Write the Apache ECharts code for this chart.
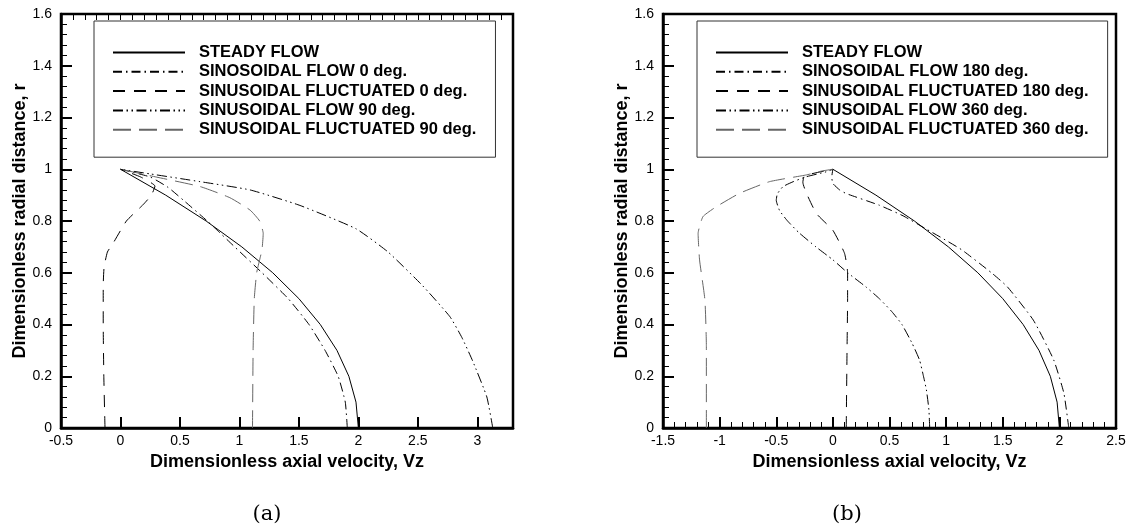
<!DOCTYPE html>
<html>
<head>
<meta charset="utf-8">
<script src="https://cdn.jsdelivr.net/npm/echarts@6/dist/echarts.min.js"></script>
<style>
  html, body { margin: 0; padding: 0; background: #fff; }
  #main { width: 1135px; height: 531px; }
</style>
</head>
<body>
<div id="main"></div>
<script>
// legend names
let namesA = ['STEADY FLOW', 'SINOSOIDAL FLOW 0 deg.', 'SINUSOIDAL FLUCTUATED 0 deg.', 'SINUSOIDAL FLOW 90 deg.', 'SINUSOIDAL FLUCTUATED 90 deg.']
let namesB = ['STEADY FLOW', 'SINOSOIDAL FLOW 180 deg.', 'SINUSOIDAL FLUCTUATED 180 deg.', 'SINUSOIDAL FLOW 360 deg.', 'SINUSOIDAL FLUCTUATED 360 deg.']

// steady profile (same in both panels), r = radial distance, v = axial velocity
let steadyR = [0, 0.1, 0.2, 0.3, 0.4, 0.5, 0.6, 0.7, 0.8, 0.9, 1.0]
let steadyV = [2.0, 1.98, 1.92, 1.82, 1.68, 1.5, 1.28, 1.02, 0.72, 0.38, 0]

// panel (a)
let flow0R = [0, 0.1, 0.2, 0.3, 0.4, 0.5, 0.6, 0.7, 0.77, 0.8, 0.88, 0.93, 0.97, 1.0]
let flow0V = [1.907, 1.89, 1.83, 1.72, 1.585, 1.41, 1.19, 0.96, 0.80, 0.73, 0.53, 0.40, 0.25, 0]
let fluc0R = [0, 0.2, 0.4, 0.55, 0.62, 0.68, 0.714, 0.8, 0.863, 0.9, 0.935, 0.97, 1.0]
let fluc0V = [-0.13, -0.14, -0.145, -0.145, -0.138, -0.11, -0.062, 0.05, 0.19, 0.26, 0.29, 0.17, 0]
let flow90R = [0, 0.12, 0.26, 0.35, 0.43, 0.55, 0.68, 0.77, 0.86, 0.92, 0.952, 0.982, 1.0]
let flow90V = [3.13, 3.08, 2.96, 2.87, 2.77, 2.54, 2.25, 1.98, 1.51, 1.09, 0.67, 0.25, 0]
let fluc90R = [0, 0.3, 0.5, 0.6, 0.65, 0.69, 0.752, 0.8, 0.842, 0.89, 0.933, 0.97, 1.0]
let fluc90V = [1.11, 1.115, 1.125, 1.145, 1.17, 1.19, 1.2, 1.17, 1.09, 0.92, 0.67, 0.3, 0]

// panel (b)
let flow180R = [0, 0.134, 0.263, 0.417, 0.546, 0.6, 0.688, 0.73, 0.77, 0.82, 0.861, 0.906, 0.92, 0.945, 0.97, 1.0]
let flow180V = [2.083, 2.04, 1.95, 1.77, 1.54, 1.40, 1.14, 0.98, 0.82, 0.62, 0.41, 0.118, 0.06, 0.0, -0.01, 0]
let fluc180R = [0, 0.3, 0.5, 0.6, 0.675, 0.764, 0.83, 0.95, 0.975, 1.0]
let fluc180V = [0.118, 0.125, 0.13, 0.13, 0.103, 0, -0.147, -0.265, -0.25, 0]
let flow360R = [0, 0.07, 0.147, 0.2, 0.263, 0.327, 0.4, 0.45, 0.5, 0.546, 0.6, 0.65, 0.7, 0.755, 0.8, 0.84, 0.88, 0.905, 0.933, 0.952, 0.971, 0.99, 1.0]
let flow360V = [0.855, 0.848, 0.826, 0.8, 0.765, 0.7, 0.61, 0.52, 0.41, 0.29, 0.13, 0, -0.15, -0.3, -0.4, -0.47, -0.5, -0.49, -0.44, -0.35, -0.235, -0.06, 0]
let fluc360R = [0, 0.314, 0.495, 0.649, 0.752, 0.817, 0.855, 0.907, 0.952, 0.978, 0.993, 1.0]
let fluc360V = [-1.117, -1.117, -1.13, -1.177, -1.19, -1.147, -1.03, -0.824, -0.56, -0.235, -0.1, 0]

// line styles: solid, dash-dot, dashed, dash-dot-dot, long dash
let dashes = ['solid', [9, 4, 1.5, 4], [12, 9], [10, 3.5, 1.5, 3.5, 1.5, 3.5], [18, 8]]
let colors = ['#000', '#000', '#000', '#000', '#666']

let font = 'Liberation Sans, Arial, Helvetica, sans-serif'

function pairs(v, r) {
  let out = []
  for (let i = 0; i < v.length; i++) {
    out.push([v[i], r[i]])
  }
  return out
}

function makeSeries(name, idx, v, r, xIdx, yIdx) {
  return {
    type: 'line',
    name: name,
    xAxisIndex: xIdx,
    yAxisIndex: yIdx,
    data: pairs(v, r),
    symbol: 'none',
    smooth: idx === 0 ? false : 0.15,
    lineStyle: { color: colors[idx], width: 1, type: dashes[idx] },
    itemStyle: { color: colors[idx] },
    emphasis: { disabled: true }
  }
}

let tickLabel = { color: '#000', fontSize: 14, fontFamily: font }
let axisName = { color: '#000', fontSize: 18, fontWeight: 'bold', fontFamily: font }

function xMajor(grid, min, max, minor) {
  return {
    type: 'value', gridIndex: grid, min: min, max: max, interval: 0.5,
    name: 'Dimensionless axial velocity, Vz', nameLocation: 'middle', nameGap: 21,
    nameTextStyle: axisName,
    axisLine: { show: true, onZero: false, lineStyle: { color: '#000', width: 2.5 } },
    axisTick: { show: true, inside: true, length: 11, lineStyle: { color: '#000', width: 2 } },
    minorTick: { show: minor, splitNumber: 5, length: 6, lineStyle: { color: '#000', width: 1 } },
    axisLabel: Object.assign({ margin: 6, showMaxLabel: minor }, tickLabel),
    splitLine: { show: false }
  }
}

function yAxisOf(grid) {
  return {
    type: 'value', gridIndex: grid, min: 0, max: 1.6, interval: 0.2,
    name: 'Dimensionless radial distance, r', nameLocation: 'middle', nameGap: 32,
    nameTextStyle: axisName,
    axisLine: { show: true, onZero: false, lineStyle: { color: '#000', width: 2.5 } },
    axisTick: { show: true, inside: true, length: 11, lineStyle: { color: '#000', width: 2 } },
    minorTick: { show: true, splitNumber: 5, length: 6, lineStyle: { color: '#000', width: 1 } },
    axisLabel: Object.assign({ margin: 9 }, tickLabel),
    splitLine: { show: false }
  }
}

function legendOf(names, left) {
  return {
    data: names,
    orient: 'vertical',
    left: left,
    top: 21,
    padding: [23, 19, 19, 18],
    itemWidth: 72,
    itemHeight: 14,
    itemGap: 2.3,
    selectedMode: false,
    backgroundColor: '#fff',
    borderColor: '#333',
    borderWidth: 1,
    itemStyle: { opacity: 0 },
    textStyle: { color: '#000', fontSize: 16.5, fontWeight: 'bold', fontFamily: font, padding: [0, 0, 0, 9] }
  }
}

let series = [
  makeSeries(namesA[0], 0, steadyV, steadyR, 0, 0),
  makeSeries(namesA[1], 1, flow0V, flow0R, 0, 0),
  makeSeries(namesA[2], 2, fluc0V, fluc0R, 0, 0),
  makeSeries(namesA[3], 3, flow90V, flow90R, 0, 0),
  makeSeries(namesA[4], 4, fluc90V, fluc90R, 0, 0),
  makeSeries(namesB[0], 0, steadyV, steadyR, 2, 1),
  makeSeries(namesB[1], 1, flow180V, flow180R, 2, 1),
  makeSeries(namesB[2], 2, fluc180V, fluc180R, 2, 1),
  makeSeries(namesB[3], 3, flow360V, flow360R, 2, 1),
  makeSeries(namesB[4], 4, fluc360V, fluc360R, 2, 1)
]

let chart = echarts.init(document.getElementById('main'), null, { renderer: 'canvas' })
chart.setOption({
  animation: false,
  backgroundColor: '#fff',
  grid: [
    { left: 61, top: 14, width: 452, height: 414, show: true, borderColor: '#000', borderWidth: 2.5, backgroundColor: 'transparent' },
    { left: 663, top: 14, width: 453, height: 414, show: true, borderColor: '#000', borderWidth: 2.5, backgroundColor: 'transparent' }
  ],
  xAxis: [
    xMajor(0, -0.5, 3.3, false),
    // minor ticks every 0.1 for panel (a), its max is not a multiple of 0.5
    {
      type: 'value', gridIndex: 0, min: -0.5, max: 3.3, interval: 0.1,
      axisLine: { show: false, onZero: false },
      axisTick: { show: true, inside: true, length: 6, lineStyle: { color: '#000', width: 1 } },
      axisLabel: { show: false },
      splitLine: { show: false }
    },
    xMajor(1, -1.5, 2.5, true)
  ],
  yAxis: [yAxisOf(0), yAxisOf(1)],
  legend: [legendOf(namesA, 94), legendOf(namesB, 697)],
  graphic: [
    { type: 'text', x: 267, y: 515, style: { text: '(a)', fontSize: 21, fontFamily: 'DejaVu Serif', fill: '#000', align: 'center', verticalAlign: 'middle' } },
    { type: 'text', x: 847, y: 515, style: { text: '(b)', fontSize: 21, fontFamily: 'DejaVu Serif', fill: '#000', align: 'center', verticalAlign: 'middle' } }
  ],
  series: series
})
</script>
</body>
</html>
